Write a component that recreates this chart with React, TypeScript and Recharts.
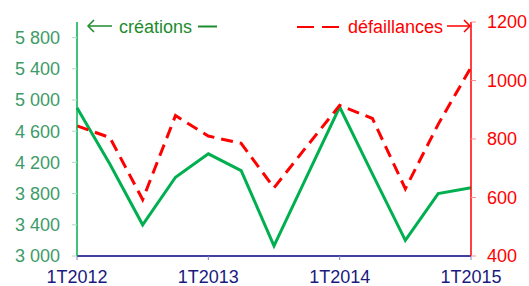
import { LineChart, Line, XAxis, YAxis } from "recharts";

// quarterly series, 1T2012 -> 1T2015
const quarters = [
  "1T2012", "2T2012", "3T2012", "4T2012",
  "1T2013", "2T2013", "3T2013", "4T2013",
  "1T2014", "2T2014", "3T2014", "4T2014",
  "1T2015",
];
const creations = [4900, 4180, 3400, 4010, 4310, 4095, 3130, 4020, 4910, 4050, 3200, 3800, 3875];
const defaillances = [845, 805, 593, 880, 810, 785, 633, 775, 915, 870, 630, 850, 1045];

const leftTicks = [3000, 3400, 3800, 4200, 4600, 5000, 5400, 5800];
const rightTicks = [400, 600, 800, 1000, 1200];

const GREEN = "#00B050";
const RED = "#FF0000";
const LEGEND_GREEN = "#1E8B2E";
const FONT = "'Liberation Sans', Arial, sans-serif";

const data = quarters.map((q, i) => ({
  q,
  creations: creations[i],
  defaillances: defaillances[i],
}));

// "5800" -> "5 800"
const fmtThousands = (v: number) =>
  String(v).replace(/\B(?=(\d{3})+(?!\d))/g, " ");

// little legend drawn over the plot: arrows pointing at each series' axis
const LegendOverlay = () => (
  <svg
    width={529}
    height={286}
    style={{ position: "absolute", left: 0, top: 0, pointerEvents: "none" }}
  >
    {/* ← créations — */}
    <g stroke={LEGEND_GREEN} strokeWidth={1.5} fill="none">
      <line x1={88} y1={26} x2={112} y2={26} />
      <polyline points="94,20 88,26 94,32" />
      <line x1={198} y1={26.5} x2={217} y2={26.5} strokeWidth={2} />
    </g>
    <text x={119} y={33} fontSize={18} fill={LEGEND_GREEN} fontFamily={FONT}>
      créations
    </text>

    {/* — — défaillances → */}
    <g stroke={RED} strokeWidth={2} fill="none">
      <line x1={297} y1={27} x2={314} y2={27} />
      <line x1={322} y1={27} x2={339} y2={27} />
      <line x1={447} y1={26} x2={470} y2={26} strokeWidth={1.5} />
      <polyline points="464,20 470,26 464,32" strokeWidth={1.5} />
    </g>
    <text x={443} y={33} fontSize={18} fill={RED} fontFamily={FONT} textAnchor="end">
      défaillances
    </text>
  </svg>
);

export default function App() {
  return (
    <div style={{ position: "absolute", left: 0, top: 0, width: 529, height: 286, fontFamily: FONT }}>
      <LineChart
        width={529}
        height={286}
        data={data}
        margin={{ top: 22, right: 0, bottom: 0, left: 0 }}
      >
        <XAxis
          dataKey="q"
          interval={3}
          height={30}
          tickSize={4}
          tickMargin={10}
          axisLine={{ stroke: "#000080", strokeWidth: 1.5 }}
          tickLine={{ stroke: "#8080C0" }}
          tick={{ fontSize: 18, fill: "#1A1A80", fontFamily: FONT }}
        />
        <YAxis
          yAxisId="left"
          orientation="left"
          width={77}
          domain={[3000, 6000]}
          ticks={leftTicks}
          interval={0}
          tickSize={5}
          tickMargin={12}
          tickFormatter={fmtThousands}
          axisLine={{ stroke: GREEN, strokeWidth: 1.5 }}
          tickLine={{ stroke: "#A8DDB8" }}
          tick={{ fontSize: 18, fill: "#3E9B68", fontFamily: FONT }}
        />
        <YAxis
          yAxisId="right"
          orientation="right"
          width={58}
          domain={[400, 1200]}
          ticks={rightTicks}
          interval={0}
          tickSize={5}
          tickMargin={11}
          axisLine={{ stroke: RED, strokeWidth: 1.5 }}
          tickLine={{ stroke: "#FF9090" }}
          tick={{ fontSize: 18, fill: RED, fontFamily: FONT, textAnchor: "start" }}
        />
        <Line
          yAxisId="left"
          dataKey="creations"
          type="linear"
          stroke={GREEN}
          strokeWidth={3}
          dot={false}
          isAnimationActive={false}
        />
        <Line
          yAxisId="right"
          dataKey="defaillances"
          type="linear"
          stroke={RED}
          strokeWidth={3}
          strokeDasharray="12 7"
          dot={false}
          isAnimationActive={false}
        />
      </LineChart>
      <LegendOverlay />
    </div>
  );
}
